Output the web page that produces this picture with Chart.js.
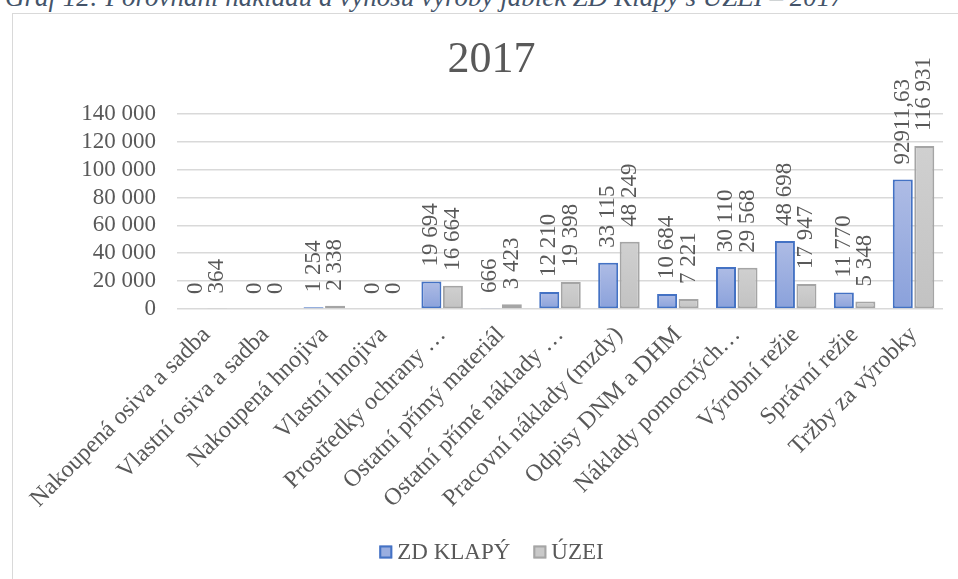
<!DOCTYPE html>
<html>
<head>
<meta charset="utf-8">
<script src="https://cdn.jsdelivr.net/npm/chart.js@4.4.0/dist/chart.umd.min.js"></script>
<style>
    body { margin: 0; background: #fff; width: 958px; height: 579px; overflow: hidden; position: relative; }
    #caption {
        position: absolute; left: 5px; top: -16px;
        font-family: 'Liberation Serif', 'Times New Roman', serif;
        font-style: italic; font-size: 27px; line-height: 27px;
        color: #44546A; white-space: nowrap;
    }
    #frame { position: absolute; left: 12px; top: 13px; width: 1000px; height: 600px; border: 1px solid #D9D9D9; background: #fff; }
    #chart { position: absolute; left: 0; top: 0; }
</style>
</head>
<body>
<div id="caption">Graf 12: Porovnání nákladů a výnosů výroby jablek ZD Klapý s ÚZEI – 2017</div>
<div id="frame"><canvas id="chart" width="957" height="565"></canvas></div>
<script>
// Categories and values
const categories = [
    'Nakoupená osiva a sadba',
    'Vlastní osiva a sadba',
    'Nakoupená hnojiva',
    'Vlastní hnojiva',
    'Prostředky ochrany …',
    'Ostatní přímý materiál',
    'Ostatní přímé náklady …',
    'Pracovní náklady (mzdy)',
    'Odpisy DNM a DHM',
    'Náklady pomocných…',
    'Výrobní režie',
    'Správní režie',
    'Tržby za výrobky'
];
const zdKlapy = [0, 0, 1254, 0, 19694, 666, 12210, 33115, 10684, 30110, 48698, 11770, 92911.63];
const uzei = [364, 0, 2338, 0, 16664, 3423, 19398, 48249, 7221, 29568, 17947, 5348, 116931];
const yMin = 0;
const yMax = 140000;
const yStep = 20000;

const TEXT = '#595959';
const FONT = "'Liberation Serif', 'Times New Roman', serif";
const BLUE_FILL = '#9AAEE0';
const GRAY_FILL = '#C9C9C9';

function formatValue(v) {
    if (!Number.isInteger(v)) return String(v).replace('.', ',');
    return String(v).replace(/\B(?=(\d{3})+(?!\d))/g, ' ');
}

// per-bar vertical gradient, built from the bar's own scale positions
function barFill(top, bottom, fallback) {
    return (context) => {
        const chart = context.chart;
        if (context.parsed === undefined || !chart.chartArea) return fallback;
        const yScale = chart.scales.y;
        const y0 = yScale.getPixelForValue(context.parsed.y);
        const y1 = yScale.getPixelForValue(0);
        if (y1 - y0 < 1) return fallback;
        const g = chart.ctx.createLinearGradient(0, y0, 0, y1);
        g.addColorStop(0, top);
        g.addColorStop(1, bottom);
        return g;
    };
}

// vertical value labels above each bar
const barValueLabels = {
    id: 'barValueLabels',
    afterDatasetsDraw(chart) {
        const ctx = chart.ctx;
        ctx.save();
        ctx.font = '23px ' + FONT;
        ctx.fillStyle = TEXT;
        ctx.textAlign = 'left';
        ctx.textBaseline = 'middle';
        chart.data.datasets.forEach((ds, i) => {
            chart.getDatasetMeta(i).data.forEach((bar, j) => {
                ctx.save();
                ctx.translate(bar.x, bar.y - 15);
                ctx.rotate(-Math.PI / 2);
                ctx.fillText(formatValue(ds.data[j]), 0, 0);
                ctx.restore();
            });
        });
        ctx.restore();
    }
};

// Excel-like legend under the axis labels (small square, tight gap)
const legendBelow = {
    id: 'legendBelow',
    afterDraw(chart) {
        const ctx = chart.ctx;
        const box = 13, gap = 5, itemGap = 23, cy = 538;
        ctx.save();
        ctx.font = '23px ' + FONT;
        ctx.textBaseline = 'middle';
        ctx.textAlign = 'left';
        const items = chart.data.datasets.map(ds => ({
            text: ds.label, fill: ds.legendFill, stroke: ds.borderColor,
            w: ctx.measureText(ds.label).width
        }));
        const total = items.reduce((s, it) => s + box + gap + it.w, 0) + itemGap * (items.length - 1);
        let x = chart.width / 2 - total / 2;
        items.forEach(it => {
            ctx.fillStyle = it.fill;
            ctx.fillRect(x, cy - 6.5, box, box);
            ctx.strokeStyle = it.stroke;
            ctx.lineWidth = 2;
            ctx.strokeRect(x + 1, cy - 5.5, box - 2, box - 2);
            ctx.fillStyle = TEXT;
            ctx.fillText(it.text, x + box + gap, cy + 1);
            x += box + gap + it.w + itemGap;
        });
        ctx.restore();
    }
};

Chart.defaults.font.family = FONT;
Chart.defaults.color = TEXT;

const chart = new Chart(document.getElementById('chart').getContext('2d'), {
    type: 'bar',
    data: {
        labels: categories,
        datasets: [
            {
                label: 'ZD KLAPÝ',
                data: zdKlapy,
                backgroundColor: barFill('#AEBCE5', '#8AA1DB', BLUE_FILL),
                legendFill: BLUE_FILL,
                borderColor: '#4472C4',
                borderWidth: 2,
                borderSkipped: false,
                categoryPercentage: 0.73,
                barPercentage: 0.93
            },
            {
                label: 'ÚZEI',
                data: uzei,
                backgroundColor: barFill('#D0D0D0', '#C2C2C2', GRAY_FILL),
                legendFill: GRAY_FILL,
                borderColor: '#A5A5A5',
                borderWidth: 2,
                borderSkipped: false,
                categoryPercentage: 0.73,
                barPercentage: 0.93
            }
        ]
    },
    options: {
        responsive: false,
        animation: false,
        devicePixelRatio: 1,
        layout: { padding: { left: 0, right: 0, top: 0, bottom: 48 } },
        plugins: {
            title: {
                display: true,
                text: '2017',
                color: TEXT,
                font: { family: FONT, size: 44, weight: 'normal' },
                padding: { top: 20, bottom: 27 }
            },
            legend: { display: false },
            tooltip: { enabled: false }
        },
        scales: {
            x: {
                grid: { display: false },
                border: { display: false },
                ticks: {
                    autoSkip: false,
                    minRotation: 45,
                    maxRotation: 45,
                    font: { family: FONT, size: 24 },
                    color: TEXT,
                    padding: 4
                },
                afterFit: (scale) => { scale.height = 222; }
            },
            y: {
                min: yMin,
                max: yMax,
                border: { display: false },
                grid: { color: '#D9D9D9', lineWidth: 1.5, drawTicks: false },
                ticks: {
                    autoSkip: false,
                    stepSize: yStep,
                    padding: 21,
                    font: { family: FONT, size: 23 },
                    color: TEXT,
                    callback: (v) => formatValue(v)
                },
                afterFit: (scale) => { scale.width = 164; }
            },
            // empty right-hand spacer so the title stays centred on the whole frame
            yRight: {
                position: 'right',
                grid: { display: false },
                border: { display: false },
                ticks: { display: false },
                afterFit: (scale) => { scale.width = 27; }
            }
        }
    },
    plugins: [barValueLabels, legendBelow]
});
</script>
</body>
</html>
